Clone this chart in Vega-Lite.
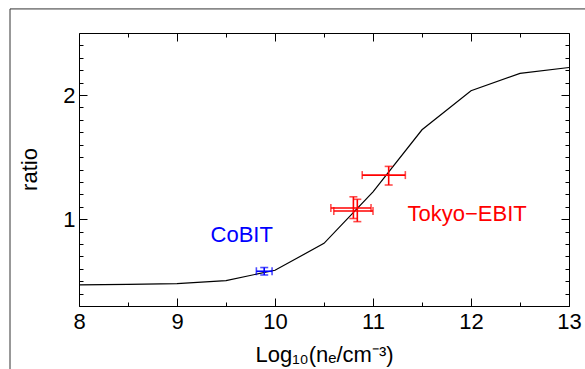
{
  "$schema": "https://vega.github.io/schema/vega-lite/v6.json",
  "width": 490,
  "height": 273,
  "autosize": {"type": "none"},
  "padding": {"left": 79, "top": 33, "right": 16, "bottom": 63},
  "background": "white",
  "config": {
    "view": {"stroke": "black", "strokeWidth": 1},
    "font": "Liberation Sans",
    "axis": {
      "grid": false,
      "domain": false,
      "ticks": true,
      "tickColor": "black",
      "tickWidth": 1,
      "labelColor": "black",
      "titleColor": "black",
      "labelFont": "Liberation Sans",
      "titleFont": "Liberation Sans",
      "labelFontSize": 22,
      "titleFontSize": 22,
      "titleFontWeight": "normal",
      "labelFlush": false,
      "labelOverlap": false
    }
  },
  "datasets": {
    "curve": [
      {"logne": 8.0, "ratio": 0.47},
      {"logne": 8.5, "ratio": 0.474},
      {"logne": 9.0, "ratio": 0.48},
      {"logne": 9.5, "ratio": 0.505},
      {"logne": 10.0, "ratio": 0.588},
      {"logne": 10.5, "ratio": 0.805},
      {"logne": 11.0, "ratio": 1.22},
      {"logne": 11.5, "ratio": 1.72},
      {"logne": 12.0, "ratio": 2.035},
      {"logne": 12.5, "ratio": 2.175},
      {"logne": 13.0, "ratio": 2.222}
    ],
    "points": [
      {"source": "CoBIT", "logne": 9.89, "lo_x": 9.81, "hi_x": 9.97, "ratio": 0.58, "lo_y": 0.55, "hi_y": 0.61},
      {"source": "Tokyo-EBIT", "logne": 10.8, "lo_x": 10.57, "hi_x": 10.98, "ratio": 1.09, "lo_y": 1.005, "hi_y": 1.18},
      {"source": "Tokyo-EBIT", "logne": 10.84, "lo_x": 10.6, "hi_x": 11.0, "ratio": 1.065, "lo_y": 0.98, "hi_y": 1.16},
      {"source": "Tokyo-EBIT", "logne": 11.16, "lo_x": 10.89, "hi_x": 11.33, "ratio": 1.355, "lo_y": 1.275, "hi_y": 1.425}
    ],
    "labels": [
      {"source": "CoBIT", "text": "CoBIT", "logne": 9.66, "ratio": 0.87},
      {"source": "Tokyo-EBIT", "text": "Tokyo−EBIT", "logne": 11.96, "ratio": 1.04}
    ]
  },
  "resolve": {"axis": {"x": "independent", "y": "independent"}},
  "layer": [
    {
      "data": {"values": [{}]},
      "mark": {"type": "rect", "fill": null, "stroke": "#333333", "strokeWidth": 1, "clip": false},
      "encoding": {
        "x": {"datum": 7.296, "type": "quantitative", "scale": {"domain": [8, 13], "nice": false, "zero": false}, "axis": null},
        "x2": {"datum": 14},
        "y": {"datum": 2.694, "type": "quantitative", "scale": {"domain": [0.3, 2.5], "nice": false, "zero": false}, "axis": null},
        "y2": {"datum": -1}
      }
    },
    {
      "data": {"name": "curve"},
      "mark": {"type": "line", "color": "black", "strokeWidth": 1.2},
      "encoding": {
        "x": {
          "field": "logne", "type": "quantitative",
          "scale": {"domain": [8, 13], "nice": false, "zero": false},
          "axis": {
            "orient": "bottom",
            "values": [8, 9, 10, 11, 12, 13],
            "format": "d",
            "offset": -8,
            "tickSize": 8,
            "labelPadding": 5,
            "title": "Log₁₀(nₑ/cm⁻³)",
            "titleY": 63,
            "titleBaseline": "alphabetic"
          }
        },
        "y": {
          "field": "ratio", "type": "quantitative",
          "scale": {"domain": [0.3, 2.5], "nice": false, "zero": false},
          "axis": {
            "orient": "left",
            "values": [1, 2],
            "format": "d",
            "offset": -8,
            "tickSize": 8,
            "labelPadding": 4,
            "title": "ratio",
            "titleX": -51,
            "titleY": 136,
            "titleBaseline": "alphabetic"
          }
        }
      }
    },
    {
      "data": {"name": "points"},
      "mark": {"type": "errorbar", "ticks": {"size": 8}, "thickness": 1.6},
      "encoding": {
        "x": {
          "field": "logne", "type": "quantitative",
          "scale": {"domain": [8, 13], "nice": false, "zero": false},
          "axis": {"orient": "top", "values": [8, 9, 10, 11, 12, 13], "offset": -8, "tickSize": 8, "labels": false, "title": null}
        },
        "y": {
          "field": "lo_y", "type": "quantitative",
          "scale": {"domain": [0.3, 2.5], "nice": false, "zero": false},
          "axis": {"orient": "right", "values": [1, 2], "offset": -8, "tickSize": 8, "labels": false, "title": null}
        },
        "y2": {"field": "hi_y"},
        "color": {"field": "source", "type": "nominal", "scale": {"domain": ["CoBIT", "Tokyo-EBIT"], "range": ["#0000ff", "#ff0000"]}, "legend": null}
      }
    },
    {
      "data": {"name": "points"},
      "mark": {"type": "errorbar", "ticks": {"size": 8}, "thickness": 1.6},
      "encoding": {
        "y": {
          "field": "ratio", "type": "quantitative",
          "scale": {"domain": [0.3, 2.5], "nice": false, "zero": false},
          "axis": {"orient": "left", "values": [0.3, 0.4, 0.5, 0.6, 0.7, 0.8, 0.9, 1.1, 1.2, 1.3, 1.4, 1.5, 1.6, 1.7, 1.8, 1.9, 2.1, 2.2, 2.3, 2.4], "offset": -4, "tickSize": 4, "labels": false, "title": null}
        },
        "x": {
          "field": "lo_x", "type": "quantitative",
          "scale": {"domain": [8, 13], "nice": false, "zero": false},
          "axis": {"orient": "bottom", "values": [8.5, 9.5, 10.5, 11.5, 12.5], "offset": -4, "tickSize": 4, "labels": false, "title": null}
        },
        "x2": {"field": "hi_x"},
        "color": {"field": "source", "type": "nominal", "scale": {"domain": ["CoBIT", "Tokyo-EBIT"], "range": ["#0000ff", "#ff0000"]}, "legend": null}
      }
    },
    {
      "data": {"name": "labels"},
      "mark": {"type": "text", "fontSize": 22, "font": "Liberation Sans", "align": "center", "baseline": "middle"},
      "encoding": {
        "x": {
          "field": "logne", "type": "quantitative",
          "scale": {"domain": [8, 13], "nice": false, "zero": false},
          "axis": {"orient": "top", "values": [8.5, 9.5, 10.5, 11.5, 12.5], "offset": -4, "tickSize": 4, "labels": false, "title": null}
        },
        "y": {
          "field": "ratio", "type": "quantitative",
          "scale": {"domain": [0.3, 2.5], "nice": false, "zero": false},
          "axis": {"orient": "right", "values": [0.3, 0.4, 0.5, 0.6, 0.7, 0.8, 0.9, 1.1, 1.2, 1.3, 1.4, 1.5, 1.6, 1.7, 1.8, 1.9, 2.1, 2.2, 2.3, 2.4], "offset": -4, "tickSize": 4, "labels": false, "title": null}
        },
        "text": {"field": "text"},
        "color": {"field": "source", "type": "nominal", "scale": {"domain": ["CoBIT", "Tokyo-EBIT"], "range": ["#0000ff", "#ff0000"]}, "legend": null}
      }
    }
  ]
}
